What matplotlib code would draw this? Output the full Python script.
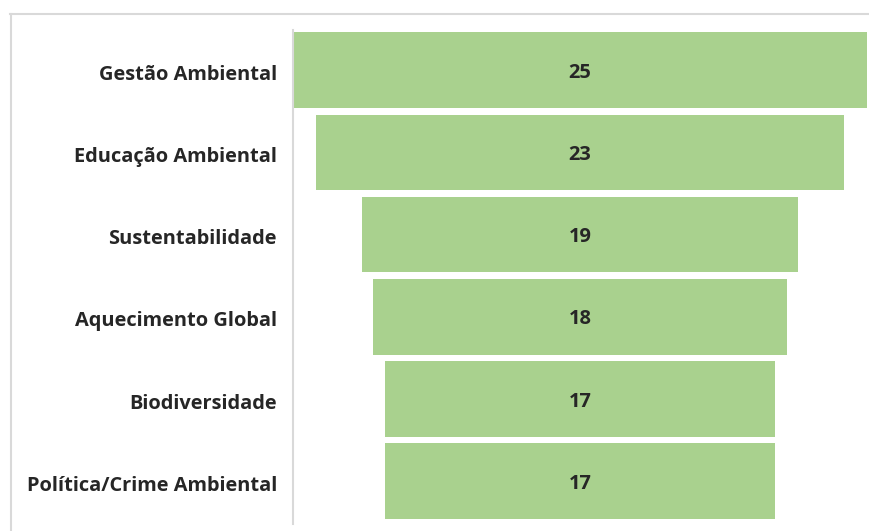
import matplotlib
matplotlib.use("Agg")
import matplotlib.pyplot as plt
from matplotlib.lines import Line2D
from matplotlib.transforms import ScaledTranslation

categories = ["Gestão Ambiental", "Educação Ambiental", "Sustentabilidade",
              "Aquecimento Global", "Biodiversidade", "Política/Crime Ambiental"]
values = [25, 23, 19, 18, 17, 17]

plt.rcParams['font.family'] = ['Open Sans', 'DejaVu Sans']

fig = plt.figure(figsize=(8.69, 5.31), dpi=100)
ax = fig.add_axes([293/869, 7/531, 574/869, 494/531])

ypos = list(range(len(values)))
lefts = [-v / 2 for v in values]
ax.barh(ypos, values, left=lefts, height=0.92, color="#A9D18E", edgecolor="none")
for y, v in zip(ypos, values):
    ax.text(0, y + 0.03, str(v), ha="center", va="center", fontsize=14.4, fontweight="bold", color="#262626")

ax.set_xlim(-12.5, 12.5)
ax.set_ylim(len(values) - 0.5 + 0.02, -0.49)
ax.set_yticks(ypos)
ax.set_yticklabels(categories, fontsize=14.4, fontweight="bold", color="#262626")
ax.tick_params(axis="y", length=0, pad=11.5)
offset = ScaledTranslation(0, -2/100, fig.dpi_scale_trans)
for lbl in ax.get_yticklabels():
    lbl.set_transform(lbl.get_transform() + offset)
ax.set_xticks([])
for s in ["top", "right", "bottom"]:
    ax.spines[s].set_visible(False)
ax.spines["left"].set_color("#d9d9d9")
ax.spines["left"].set_linewidth(1.5)

# chart-area frame (top and left edges visible)
fig.add_artist(Line2D([10/869, 1.0], [1 - 14/531, 1 - 14/531], color="#d9d9d9", lw=1.5, transform=fig.transFigure))
fig.add_artist(Line2D([11/869, 11/869], [0, 1 - 14/531], color="#d9d9d9", lw=1.5, transform=fig.transFigure))

fig.savefig("out.png", dpi=100)
